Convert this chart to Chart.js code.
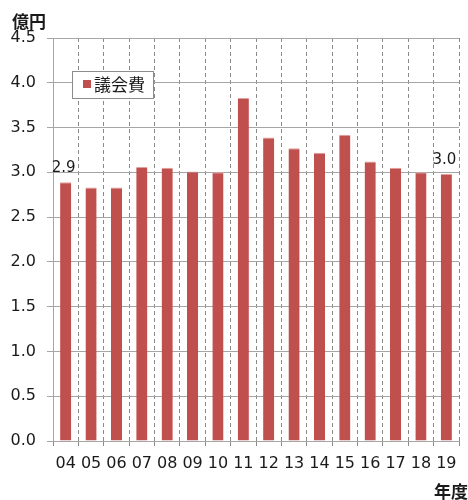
<!DOCTYPE html>
<html>
<head>
<meta charset="utf-8">
<script src="https://cdn.jsdelivr.net/npm/chart.js@4"></script>
<style>
  html, body { margin: 0; padding: 0; background: #fff; }
  #wrap { width: 468px; height: 500px; }
</style>
</head>
<body>
<div id="wrap"><canvas id="chart" width="468" height="500"></canvas></div>
<script>
// DATA
const years = ["04", "05", "06", "07", "08", "09", "10", "11", "12", "13", "14", "15", "16", "17", "18", "19"];
const assemblyCost = [2.89, 2.83, 2.83, 3.06, 3.05, 3.01, 3.00, 3.83, 3.39, 3.27, 3.22, 3.42, 3.12, 3.05, 3.00, 2.98];
const labelledPoints = [0, 15];
const labelTexts = ["2.9", "3.0"];
const seriesName = "議会費";
const yUnit = "億円";
const xUnit = "年度";

const BAR_RED = "#C0504D";
const TEXT = "#1a1a1a";
const LATIN = "'DejaVu Sans', Verdana, sans-serif";
const CJK = "'Noto Sans CJK JP', sans-serif";

// ================================
// Extra drawing: units, value labels, legend box
// ================================
const decorations = {
  id: "decorations",
  afterDatasetsDraw(chart) {
    const ctx = chart.ctx;
    const meta = chart.getDatasetMeta(0);
    ctx.save();

    // value labels
    ctx.fillStyle = TEXT;
    ctx.font = "15px " + LATIN;
    ctx.textAlign = "center";
    ctx.textBaseline = "bottom";
    labelledPoints.forEach((idx, i) => {
      const bar = meta.data[idx];
      ctx.fillText(labelTexts[i], bar.x - 2, bar.y - 7);
    });

    // units
    ctx.font = "bold 17px " + CJK;
    ctx.textBaseline = "middle";
    ctx.textAlign = "left";
    ctx.fillText(yUnit, 12, 22);
    ctx.textAlign = "right";
    ctx.fillText(xUnit, 468, 492);

    // legend box
    const lx = 72, ly = 71, lw = 81, lh = 27;
    ctx.fillStyle = "#fff";
    ctx.fillRect(lx, ly, lw, lh);
    ctx.strokeStyle = "#8c8c8c";
    ctx.lineWidth = 1;
    ctx.strokeRect(lx + 0.5, ly + 0.5, lw, lh);
    ctx.fillStyle = BAR_RED;
    ctx.fillRect(83, 80, 8, 8);
    ctx.fillStyle = TEXT;
    ctx.font = "17px " + CJK;
    ctx.textAlign = "left";
    ctx.fillText(chart.data.datasets[0].label, 94, 85);

    ctx.restore();
  }
};

new Chart(document.getElementById("chart"), {
  type: "bar",
  data: {
    labels: years,
    datasets: [{
      label: seriesName,
      data: assemblyCost,
      backgroundColor: BAR_RED,
      borderColor: "#e0a09e",
      borderWidth: { top: 1, left: 0, right: 0, bottom: 0 },
      borderSkipped: "bottom",
      barPercentage: 0.44,
      categoryPercentage: 1.0
    }]
  },
  options: {
    responsive: false,
    animation: false,
    layout: { padding: { top: 38, right: 9, left: 0, bottom: 0 } },
    plugins: {
      legend: { display: false },
      tooltip: { enabled: false }
    },
    scales: {
      x: {
        offset: true,
        afterFit: s => { s.height = 59; },
        grid: {
          offset: true,
          color: "#8a8a8a",
          lineWidth: 1,
          tickLength: 5,
          drawTicks: true
        },
        border: { display: true, color: "#a6a6a6", dash: [4, 3] },
        ticks: {
          color: TEXT,
          font: { family: LATIN, size: 16 },
          padding: 8,
          maxRotation: 0,
          autoSkip: false
        }
      },
      y: {
        min: 0,
        max: 4.5,
        afterFit: s => { s.width = 53; },
        grid: {
          color: "#a6a6a6",
          lineWidth: 1,
          tickLength: 6
        },
        border: { display: true, color: "#a6a6a6" },
        ticks: {
          stepSize: 0.5,
          color: TEXT,
          font: { family: LATIN, size: 16 },
          padding: 11,
          callback: v => v.toFixed(1)
        }
      }
    }
  },
  plugins: [decorations]
});
</script>
</body>
</html>
